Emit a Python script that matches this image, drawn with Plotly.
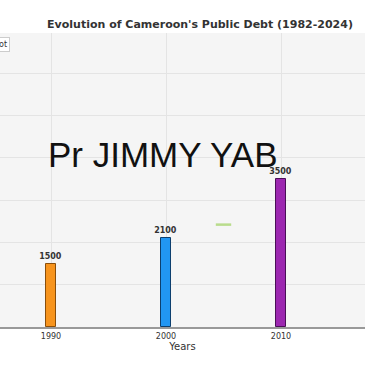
import plotly.graph_objects as go

years = [1990, 2000, 2010]
debt = [1500, 2100, 3500]
bar_colors = ["#F7941D", "#2196F3", "#9C27B0"]
edge_colors = ["#8a4e0a", "#0d3f6e", "#4a0f57"]
marker_year = [2005]
marker_value = [2420]

W, H = 365, 365
fig = go.Figure()
fig.add_trace(go.Bar(
    x=years, y=debt, width=0.8,
    marker=dict(color=bar_colors, line=dict(color=edge_colors, width=1)),
    text=[str(v) for v in debt], textposition="outside", constraintext="none",
    textfont=dict(family="DejaVu Sans", size=8, color="#333333"),
    texttemplate="<b>%{text}</b>", cliponaxis=False, showlegend=False,
))
fig.add_trace(go.Scatter(
    x=marker_year, y=marker_value, mode="markers",
    marker=dict(symbol="line-ew", size=11, line=dict(color="#b9dc8c", width=2.5)),
    showlegend=False,
))

fig.update_layout(
    width=W, height=H,
    margin=dict(l=0, r=0, t=33, b=38),
    paper_bgcolor="white", plot_bgcolor="#f5f5f5",
    bargap=0,
    title=dict(text="<b>Evolution of Cameroon's Public Debt (1982-2024)</b>",
               x=200 / W, xanchor="center", y=1 - 24 / H, yanchor="middle",
               font=dict(family="DejaVu Sans", size=11, color="#333333")),
    xaxis=dict(range=[1990 - 51 / 11.5, 1990 + 314 / 11.5], tickvals=[1990, 2000, 2010, 2020],
               showgrid=True, gridcolor="#e4e4e4", gridwidth=1,
               showline=True, linecolor="#999999", linewidth=2,
               ticks="", tickfont=dict(family="DejaVu Sans", size=8, color="#333333"),
               title=dict(text="Years", font=dict(family="DejaVu Sans", size=10, color="#333333"), standoff=2),
               zeroline=False),
    yaxis=dict(range=[0, 6950], dtick=1000, showgrid=True, gridcolor="#e4e4e4", gridwidth=1,
               showticklabels=False, zeroline=False, showline=False),
    annotations=[
        dict(text="Pr JIMMY YAB", xref="paper", yref="paper", x=163 / W, y=1 - (154 - 33) / (H - 71),
             xanchor="center", yanchor="middle", showarrow=False,
             font=dict(family="Liberation Sans", size=35, color="#111111")),
        dict(text="ot", xref="paper", yref="paper", x=0, y=1 - (44 - 33) / (H - 71),
             xanchor="right", yanchor="middle", showarrow=False, xshift=10,
             font=dict(family="DejaVu Sans", size=8, color="#333333"),
             bgcolor="white", bordercolor="#cccccc", borderwidth=1, borderpad=2),
    ],
)

fig.write_html("out.html")
